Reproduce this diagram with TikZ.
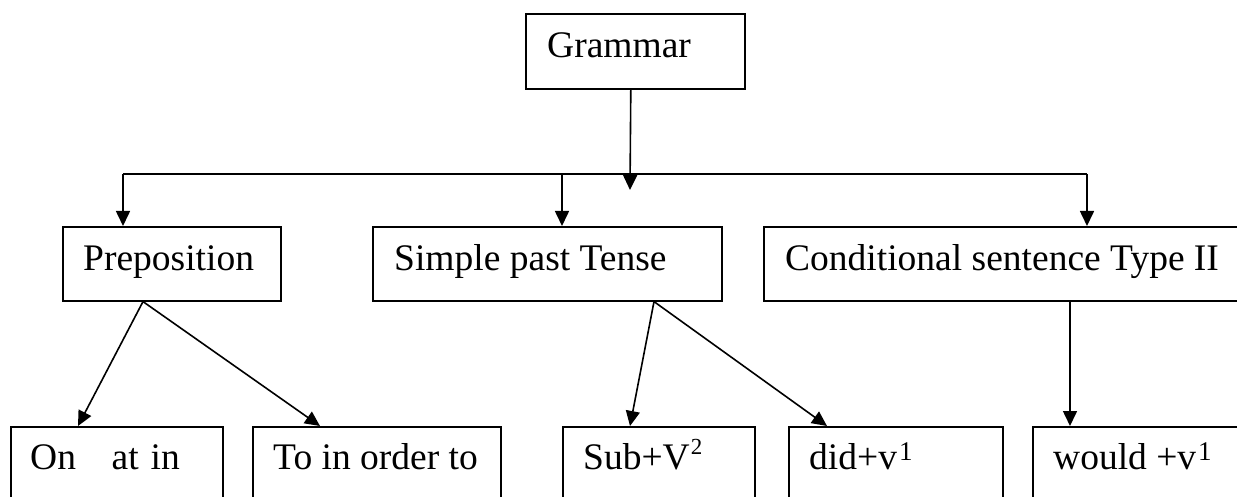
\documentclass[tikz,border=0pt]{standalone}
\usepackage{fontspec}
\setmainfont{Liberation Serif}
\usetikzlibrary{arrows.meta}
\newcommand{\supa}[1]{\kern1pt\raisebox{15pt}{\fontsize{23}{23}\selectfont #1}}
\newcommand{\supb}[1]{\kern2pt\raisebox{9pt}{\fontsize{27}{27}\selectfont #1}}
\begin{document}
\begin{tikzpicture}[x=1pt,y=-1pt,
  box/.style={draw, line width=1.6pt, rectangle, inner sep=0pt, anchor=north west},
  lbl/.style={anchor=base west, inner sep=0pt, font=\fontsize{37.5}{44}\selectfont},
  arr/.style={line width=1.6pt, -{Triangle[length=15pt,width=14pt]}},
  ln/.style={line width=1.6pt}]
\useasboundingbox (0,0) rectangle (1237,497);
\clip (0,0) rectangle (1237,497);
% boxes
\node[box, minimum width=219pt, minimum height=75pt] (gram) at (525,13) {};
\node[box, minimum width=218pt, minimum height=74pt] (prep) at (62,226) {};
\node[box, minimum width=349pt, minimum height=74pt] (simp) at (372,226) {};
\node[box, minimum width=500pt, minimum height=74pt] (cond) at (763,226) {};
\node[box, minimum width=212pt, minimum height=120pt] (on) at (10,426) {};
\node[box, minimum width=248pt, minimum height=120pt] (to) at (252,426) {};
\node[box, minimum width=192pt, minimum height=120pt] (sub) at (562,426) {};
\node[box, minimum width=214pt, minimum height=120pt] (did) at (788,426) {};
\node[box, minimum width=300pt, minimum height=120pt] (would) at (1032,426) {};
% labels
\node[lbl] (tgram) at (547,58) {Grammar};
\node[lbl] (tprep) at (83,270) {Preposition};
\node[lbl] (tsimp) at (394,270) {Simple past Tense};
\node[lbl] (tcond) at (785,270) {Conditional sentence Type II};
\node[lbl] (ton) at (30,469) {On\hspace{0.95em}at\hspace{0.32em}in};
\node[lbl] (tto) at (273,469) {To in order to};
\node[lbl] (tsub) at (583,469) {Sub+V\supa{2}};
\node[lbl] (tdid) at (809,469) {did+v\supb{1}};
\node[lbl] (twould) at (1053,469) {would +v\supb{1}};
% bus
\coordinate (busL) at (123,174);
\coordinate (busM) at (562,174);
\coordinate (busR) at (1087,174);
\coordinate (busT) at (630,190);
\draw[arr] ([xshift=-4.5pt]gram.south) -- (busT);
\draw[ln] (busL) -- (busR);
\draw[arr] (busL) -- (busL |- prep.north);
\draw[arr] (busM) -- (busM |- simp.north);
\draw[arr] (busR) -- (busR |- cond.north);
% children
\draw[arr] ([xshift=81pt]prep.south west) -- ([xshift=68pt]on.north west);
\draw[arr] ([xshift=81pt]prep.south west) -- ([xshift=68pt]to.north west);
\draw[arr] ([xshift=282pt]simp.south west) -- ([xshift=68pt]sub.north west);
\draw[arr] ([xshift=282pt]simp.south west) -- ([xshift=39pt]did.north west);
\draw[arr] ([xshift=307pt]cond.south west) -- ([xshift=38pt]would.north west);
\end{tikzpicture}
\end{document}
